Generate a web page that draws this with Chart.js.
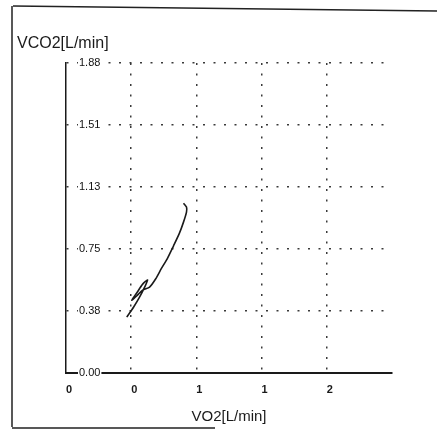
<!DOCTYPE html>
<html lang="en">
<head>
    <meta charset="UTF-8">
    <title>VCO2 / VO2</title>
    <script src="https://cdn.jsdelivr.net/npm/chart.js"></script>
    <style>
        html, body { margin: 0; padding: 0; background: #fff; }
        #wrap { width: 437px; height: 430px; position: relative; }
    </style>
</head>
<body>
    <div id="wrap"><canvas id="vslope"></canvas></div>

    <script>
        // Values
        const vo2 = [0.466, 0.519, 0.565, 0.603, 0.626, 0.588, 0.542, 0.504, 0.542, 0.588,
                     0.641, 0.687, 0.733, 0.779, 0.824, 0.870, 0.901, 0.924, 0.924, 0.901];
        const vco2 = [0.339, 0.400, 0.461, 0.521, 0.564, 0.539, 0.485, 0.442, 0.467, 0.503,
                      0.521, 0.570, 0.636, 0.697, 0.770, 0.848, 0.915, 0.976, 1.006, 1.030];

        const xTickValues = [0, 0.5, 1, 1.5, 2];
        const xTickLabels = ['0', '0', '1', '1', '2'];
        const yTickValues = [0, 0.376, 0.752, 1.128, 1.504, 1.88];
        const yTickLabels = ['0.00', '0.38', '0.75', '1.13', '1.51', '1.88'];

        const ink = '#1a1a1a';
        const dots = '#3a3a3a';

        // page frame + the horizontal y title
        const decor = {
            id: 'decor',
            afterDraw(chart) {
                const ctx = chart.ctx;
                ctx.save();
                ctx.strokeStyle = '#222';
                ctx.lineWidth = 1.5;
                ctx.beginPath();
                ctx.moveTo(13, 6); ctx.lineTo(437, 11);
                ctx.moveTo(12, 6); ctx.lineTo(12, 427);
                ctx.moveTo(12, 428); ctx.lineTo(215, 428);
                ctx.stroke();
                ctx.fillStyle = ink;
                ctx.font = '16px "Liberation Sans", Arial, sans-serif';
                ctx.textBaseline = 'alphabetic';
                ctx.fillText('VCO2[L/min]', 17, 48);
                ctx.restore();
            }
        };

        new Chart(document.getElementById('vslope'), {
            type: 'scatter',
            data: {
                datasets: [{
                    data: vo2.map((v, i) => ({ x: v, y: vco2[i] })),
                    showLine: true,
                    borderColor: ink,
                    borderWidth: 1.6,
                    pointRadius: 0,
                    tension: 0.25
                }]
            },
            options: {
                responsive: true,
                maintainAspectRatio: false,
                animation: false,
                layout: { padding: { left: 0, top: 63, right: 45, bottom: 0 } },
                plugins: { legend: { display: false }, tooltip: { enabled: false } },
                scales: {
                    x: {
                        type: 'linear',
                        min: 0,
                        max: 2.5,
                        afterBuildTicks: s => { s.ticks = xTickValues.map(v => ({ value: v })); },
                        afterFit: s => { s.height = 57; },
                        grid: {
                            drawTicks: false,
                            lineWidth: 1.5,
                            color: c => (c.tick && c.tick.value === 0) ? 'rgba(0,0,0,0)' : dots
                        },
                        border: { color: ink, width: 2, dash: [2, 8.5] },
                        ticks: {
                            padding: 10,
                            labelOffset: 3,
                            color: ink,
                            font: { family: '"Liberation Sans", Arial, sans-serif', size: 11, weight: 'bold' },
                            callback: (v, i) => xTickLabels[i]
                        },
                        title: {
                            display: true,
                            text: 'VO2[L/min]',
                            color: ink,
                            padding: { top: 0, bottom: 4 },
                            font: { family: '"Liberation Sans", Arial, sans-serif', size: 15 }
                        }
                    },
                    y: {
                        type: 'linear',
                        min: 0,
                        max: 1.88,
                        afterBuildTicks: s => { s.ticks = yTickValues.map(v => ({ value: v })); },
                        afterFit: s => { s.width = 66; },
                        grid: {
                            drawTicks: false,
                            lineWidth: 1.5,
                            color: c => (c.tick && c.tick.value === 0) ? 'rgba(0,0,0,0)' : dots
                        },
                        border: { color: ink, width: 1.5, dash: [2, 8.5] },
                        ticks: {
                            mirror: true,
                            padding: 13,
                            z: 1,
                            color: '#111',
                            showLabelBackdrop: true,
                            backdropColor: '#fff',
                            backdropPadding: 1,
                            font: { family: '"Liberation Sans", Arial, sans-serif', size: 11 },
                            callback: (v, i) => yTickLabels[i]
                        }
                    }
                }
            },
            plugins: [decor]
        });
    </script>
</body>
</html>
